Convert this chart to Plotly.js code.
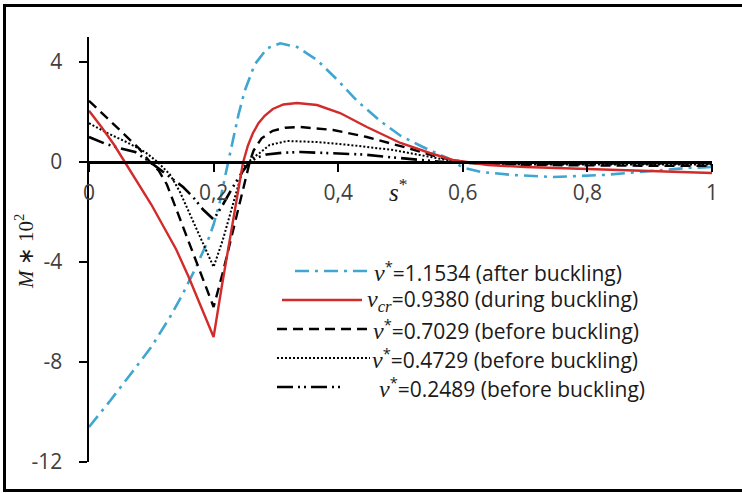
<!DOCTYPE html>
<html>
<head>
<meta charset="utf-8">
<script src="https://cdn.plot.ly/plotly-3.0.1.min.js"></script>
<style>
  html, body { margin: 0; padding: 0; background: #fff; overflow: hidden; }
  #wrap { position: relative; width: 742px; height: 493px; }
  #chart { position: absolute; left: 0; top: 0; width: 742px; height: 493px; }
  #frame { position: absolute; left: 3px; top: 4px; width: 760px; height: 488px;
           box-sizing: border-box; border: 3px solid #000; pointer-events: none; }
</style>
</head>
<body>
<div id="wrap">
  <div id="chart"></div>
  <div id="frame"></div>
</div>
<script>
// Bending moment M*10^2 along the normalised arc length s*
const sAfter   = [0, 0.034, 0.071, 0.1, 0.13, 0.15, 0.17, 0.19, 0.2, 0.21, 0.22, 0.23, 0.24, 0.25, 0.266, 0.286, 0.307, 0.334, 0.366, 0.4, 0.43, 0.467, 0.5, 0.536, 0.575, 0.6, 0.63, 0.68, 0.745, 0.825, 0.88, 0.96, 1.0];
const mAfter   = [-10.6, -9.55, -8.35, -7.4, -6.2, -5.3, -4.3, -3.2, -2.5, -1.6, -0.4, 0.7, 1.9, 2.85, 3.9, 4.55, 4.75, 4.6, 4.08, 3.25, 2.45, 1.65, 1.05, 0.6, 0.16, -0.22, -0.4, -0.52, -0.6, -0.52, -0.4, -0.24, -0.2];

const sCrit    = [0, 0.02, 0.04, 0.06, 0.08, 0.1, 0.12, 0.14, 0.16, 0.18, 0.2, 0.213, 0.226, 0.237, 0.247, 0.255, 0.263, 0.272, 0.282, 0.295, 0.312, 0.334, 0.366, 0.403, 0.446, 0.5, 0.547, 0.584, 0.64, 0.7, 0.77, 0.85, 0.92, 1.0];
const mCrit    = [2.05, 1.4, 0.7, -0.1, -0.85, -1.7, -2.6, -3.5, -4.6, -5.8, -7.0, -5.0, -3.1, -1.4, -0.05, 0.65, 1.15, 1.55, 1.85, 2.12, 2.3, 2.36, 2.28, 1.96, 1.4, 0.76, 0.36, 0.08, -0.12, -0.2, -0.25, -0.32, -0.38, -0.44];

const s07029   = [0, 0.03, 0.06, 0.08, 0.098, 0.112, 0.125, 0.151, 0.178, 0.2, 0.215, 0.231, 0.242, 0.258, 0.264, 0.277, 0.295, 0.315, 0.339, 0.392, 0.446, 0.494, 0.52, 0.56, 0.6, 0.7, 0.8, 0.9, 1.0];
const m07029   = [2.45, 1.75, 1.05, 0.55, 0.0, -0.35, -0.9, -2.6, -4.3, -5.8, -4.4, -2.8, -1.7, 0.0, 0.45, 0.95, 1.25, 1.37, 1.4, 1.28, 1.0, 0.68, 0.5, 0.2, 0.0, -0.12, -0.15, -0.15, -0.15];

const s04729   = [0, 0.03, 0.06, 0.09, 0.11, 0.13, 0.146, 0.162, 0.183, 0.2, 0.215, 0.231, 0.248, 0.262, 0.274, 0.29, 0.318, 0.366, 0.419, 0.488, 0.53, 0.57, 0.62, 0.7, 0.8, 0.9, 1.0];
const m04729   = [1.55, 1.15, 0.8, 0.4, 0.0, -0.5, -1.2, -2.1, -3.3, -4.2, -3.1, -1.7, -0.2, 0.15, 0.36, 0.68, 0.84, 0.8, 0.68, 0.48, 0.3, 0.1, -0.05, -0.1, -0.1, -0.1, -0.1];

const s02489   = [0, 0.025, 0.05, 0.074, 0.098, 0.125, 0.151, 0.167, 0.183, 0.2, 0.215, 0.231, 0.246, 0.258, 0.27, 0.285, 0.31, 0.34, 0.39, 0.44, 0.48, 0.53, 0.57, 0.62, 0.7, 0.8, 0.9, 1.0];
const m02489   = [1.0, 0.74, 0.55, 0.4, 0.0, -0.5, -1.0, -1.4, -1.9, -2.3, -1.7, -1.0, -0.4, 0.0, 0.18, 0.3, 0.37, 0.4, 0.36, 0.3, 0.2, 0.08, 0.0, -0.05, -0.06, -0.06, -0.06, -0.06];

const vItalic = "<span style=\"font-family:'Liberation Serif';font-style:italic;font-size:24px\">v</span>";
const seriesNames = [
  vItalic + "<sup>*</sup>=1.1534 (after buckling)",
  "<span style=\"font-family:'Liberation Serif';font-style:italic;font-size:24px\">v<sub>cr</sub></span>=0.9380 (during buckling)",
  vItalic + "<sup>*</sup>=0.7029 (before buckling)",
  vItalic + "<sup>*</sup>=0.4729 (before buckling)",
  vItalic + "<sup>*</sup>=0.2489 (before buckling)"
];

const xTickVals  = [0, 0.2, 0.4, 0.6, 0.8, 1];
const xTickText  = ["0", "0,2", "0,4", "0,6", "0,8", "1"];
const yTickVals  = [-12, -8, -4, 0, 4];
const yTickText  = ["-12", "-8", "-4", "0", "4"];

const BLUE = "#3fa6d1";
const RED = "#d22b2b";
const BLACK = "#000000";

const styles = [
  { color: BLUE,  width: 2.6, dash: "14px,6px,3px,6px" },
  { color: RED,   width: 2.4, dash: "solid" },
  { color: BLACK, width: 2.4, dash: "10px,6px" },
  { color: BLACK, width: 2.0, dash: "2px,2px" },
  { color: BLACK, width: 2.6, dash: "16px,5px,2px,4px,2px,5px" }
];

const xs = [sAfter, sCrit, s07029, s04729, s02489];
const ys = [mAfter, mCrit, m07029, m04729, m02489];

const traces = xs.map((x, i) => ({
  x: x, y: ys[i], name: seriesNames[i], type: "scatter", mode: "lines",
  line: { color: styles[i].color, width: styles[i].width, dash: styles[i].dash, shape: "linear" },
  showlegend: false, hoverinfo: "skip"
}));
// draw the red curve on top
const order = [0, 2, 3, 4, 1];

// plot area in page pixels
const L = 89, T = 37, W = 623, H = 425;
const px = v => (v - L) / W;
const py = v => (T + H - v) / H;

// legend rows: sample line start/end, text start, row centre (page pixels)
const legendRows = [
  { x0: 295, x1: 370, tx: 372, y: 271 },
  { x0: 282, x1: 362, tx: 365, y: 300 },
  { x0: 277, x1: 372, tx: 371, y: 329 },
  { x0: 277, x1: 370, tx: 370, y: 358 },
  { x0: 277, x1: 345, tx: 377, y: 387 }
];

const shapes = legendRows.map((r, i) => ({
  type: "line", xref: "paper", yref: "paper",
  x0: px(r.x0), x1: px(r.x1), y0: py(r.y), y1: py(r.y),
  line: { color: styles[i].color, width: styles[i].width, dash: styles[i].dash }
}));

const textFont = { family: "'Open Sans', sans-serif", size: 21, color: "#1a1a1a" };

const annotations = legendRows.map((r, i) => ({
  xref: "paper", yref: "paper", x: px(r.tx), y: py(r.y),
  xanchor: "left", yanchor: "middle", showarrow: false,
  text: seriesNames[i], font: textFont
}));

annotations.push({
  xref: "paper", yref: "paper", x: px(398), y: py(190),
  xanchor: "center", yanchor: "middle", showarrow: false,
  text: "<i>s</i><sup>*</sup>",
  font: { family: "'Liberation Serif', serif", size: 25, color: "#1a1a1a" }
});

annotations.push({
  xref: "paper", yref: "paper", x: px(24), y: py(252),
  xanchor: "center", yanchor: "middle", showarrow: false, textangle: -90,
  text: "<i>M</i> ∗ 10<sup>2</sup>",
  font: { family: "'Liberation Serif', serif", size: 21, color: "#1a1a1a" }
});

const tickFont = { family: "'Open Sans', sans-serif", size: 21, color: "#404040" };

const layout = {
  width: 742, height: 493,
  margin: { l: L, r: 742 - L - W, t: T, b: 493 - T - H, pad: 0 },
  paper_bgcolor: "#ffffff", plot_bgcolor: "#ffffff",
  showlegend: false,
  xaxis: {
    range: [0, 1], anchor: "free", position: 12 / 17,
    showline: true, linecolor: "#000", linewidth: 2.5,
    ticks: "outside", ticklen: 8, tickwidth: 2, tickcolor: "#000",
    tickvals: xTickVals, ticktext: xTickText, tickfont: tickFont,
    ticklabelstandoff: 3,
    showgrid: false, zeroline: false, fixedrange: true
  },
  yaxis: {
    range: [-12, 5],
    showline: true, linecolor: "#000", linewidth: 2.5,
    ticks: "outside", ticklen: 8, tickwidth: 2, tickcolor: "#000",
    tickvals: yTickVals, ticktext: yTickText, tickfont: tickFont,
    ticklabelstandoff: 12,
    showgrid: false, zeroline: false, fixedrange: true
  },
  shapes: shapes,
  annotations: annotations
};

Plotly.newPlot("chart", order.map(i => traces[i]), layout, { staticPlot: true, displayModeBar: false });
</script>
</body>
</html>
